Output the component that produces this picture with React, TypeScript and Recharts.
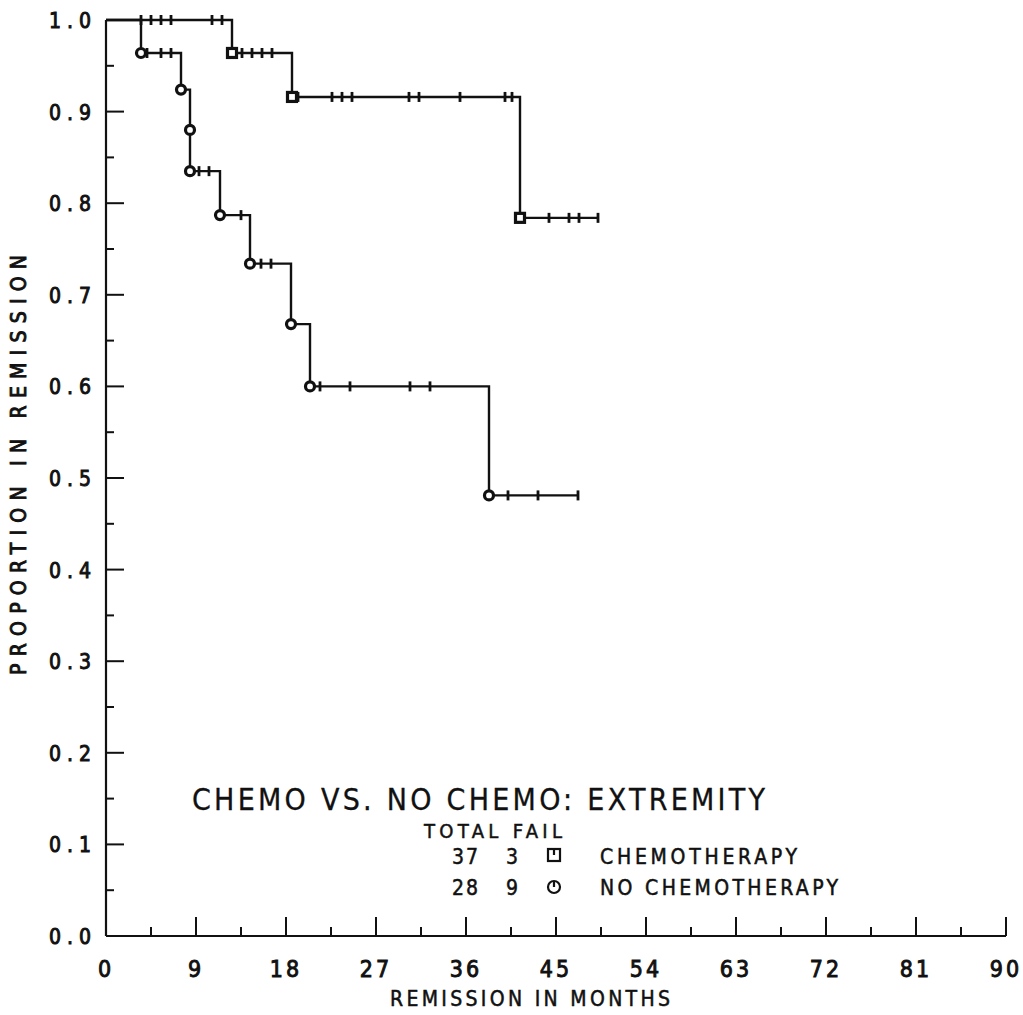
import { ComposedChart, Line, Scatter, XAxis, YAxis } from "recharts";

// step curve for patients without chemotherapy (times in months, proportion in remission)
const noChemoTimes = [0, 3.5, 7.5, 8.4, 11.4, 14.4, 18.5, 20.4, 38.3, 47.2];
const noChemoSurv = [1.0, 0.964, 0.924, 0.835, 0.787, 0.734, 0.668, 0.6, 0.481, 0.481];
const noChemoFailTimes = [3.5, 7.5, 8.4, 8.4, 11.4, 14.4, 18.5, 20.4, 38.3];
const noChemoFailSurv = [0.964, 0.924, 0.88, 0.835, 0.787, 0.734, 0.668, 0.6, 0.481];
const noChemoCensored = [4.1, 5.5, 6.5, 9.3, 10.3, 13.5, 15.5, 16.5, 21.4, 24.4, 30.4, 32.4, 40.2, 43.2, 47.2];

// step curve for patients with chemotherapy
const chemoTimes = [0, 12.6, 18.6, 41.4, 49.2];
const chemoSurv = [1.0, 0.964, 0.916, 0.784, 0.784];
const chemoFailTimes = [12.6, 18.6, 41.4];
const chemoFailSurv = [0.964, 0.916, 0.784];
const chemoCensored = [3.5, 4.5, 5.5, 6.5, 10.6, 11.6, 13.6, 14.6, 15.6, 16.6, 19.2, 22.6, 23.6, 24.6, 30.3, 31.3, 35.4, 39.9, 40.6, 44.3, 46.3, 47.3, 49.2];

const xTicks = [0, 4.5, 9, 13.5, 18, 22.5, 27, 31.5, 36, 40.5, 45, 49.5, 54, 58.5, 63, 67.5, 72, 76.5, 81, 85.5, 90];
const yTicks = [0, 0.05, 0.1, 0.15, 0.2, 0.25, 0.3, 0.35, 0.4, 0.45, 0.5, 0.55, 0.6, 0.65, 0.7, 0.75, 0.8, 0.85, 0.9, 0.95, 1.0];

const FONT = "'DejaVu Sans Condensed', 'DejaVu Sans', sans-serif";
const INK = "#111";

const toRows = (ts: number[], ss: number[]) => ts.map((t, i) => ({ t, s: ss[i] }));

function survAt(ts: number[], ss: number[], t: number) {
  let s = ss[0];
  for (let i = 0; i < ts.length; i++) if (ts[i] <= t) s = ss[i];
  return s;
}

const noChemoSteps = toRows(noChemoTimes, noChemoSurv);
const chemoSteps = toRows(chemoTimes, chemoSurv);
const noChemoFails = toRows(noChemoFailTimes, noChemoFailSurv);
const chemoFails = toRows(chemoFailTimes, chemoFailSurv);
const noChemoCens = noChemoCensored.map((t) => ({ t, s: survAt(noChemoTimes, noChemoSurv, t) }));
const chemoCens = chemoCensored.map((t) => ({ t, s: survAt(chemoTimes, chemoSurv, t) }));

const isMajor = (v: number, step: number) => Math.abs(v / step - Math.round(v / step)) < 1e-6;

function YTick(props: any) {
  const { x, y, payload } = props;
  const v = payload.value as number;
  const major = isMajor(v, 0.1);
  return (
    <g>
      <line x1={x} x2={x + (major ? 18 : 8)} y1={y} y2={y} stroke={INK} strokeWidth={2} />
      {major && (
        <text x={x - 15} y={y} dy={8} textAnchor="end" fontFamily={FONT} fontSize={21}
          fill={INK} stroke={INK} strokeWidth={0.9} textLength={42} lengthAdjust="spacing">
          {v.toFixed(1)}
        </text>
      )}
    </g>
  );
}

function XTick(props: any) {
  const { x, y, payload } = props;
  const v = payload.value as number;
  const major = isMajor(v, 9);
  return (
    <g>
      <line x1={x} x2={x} y1={y} y2={y - (major ? 19 : 9)} stroke={INK} strokeWidth={2} />
      {major && (
        <text x={x} y={y + 41} textAnchor="middle" fontFamily={FONT} fontSize={23}
          fill={INK} stroke={INK} strokeWidth={0.9} letterSpacing={3}>
          {v}
        </text>
      )}
    </g>
  );
}

function CensorMark(props: any) {
  const { cx, cy } = props;
  return <line x1={cx} x2={cx} y1={cy - 5} y2={cy + 5} stroke={INK} strokeWidth={2.8} />;
}

function CircleMark(props: any) {
  const { cx, cy } = props;
  return <circle cx={cx} cy={cy} r={4.5} fill="#fff" stroke={INK} strokeWidth={3.2} />;
}

function SquareMark(props: any) {
  const { cx, cy } = props;
  return <rect x={cx - 4.5} y={cy - 4.5} width={9} height={9} fill="#fff" stroke={INK} strokeWidth={3.2} />;
}

export default function App() {
  return (
    <div style={{ position: "absolute", left: 0, top: 0, width: 1023, height: 1015, background: "#fff" }}>
      <ComposedChart width={1023} height={1015} margin={{ top: 20, right: 17, left: 0, bottom: 0 }}>
        <XAxis
          dataKey="t"
          type="number"
          domain={[0, 90]}
          ticks={xTicks}
          interval={0}
          height={79}
          tickSize={0}
          tickMargin={0}
          tickLine={false}
          axisLine={{ stroke: INK, strokeWidth: 2.2 }}
          tick={XTick}
          allowDataOverflow
        />
        <YAxis
          type="number"
          domain={[0, 1]}
          ticks={yTicks}
          interval={0}
          width={106}
          tickSize={0}
          tickMargin={0}
          tickLine={false}
          axisLine={{ stroke: INK, strokeWidth: 2.2 }}
          tick={YTick}
        />
        <Line data={chemoSteps} dataKey="s" type="stepAfter" stroke={INK} strokeWidth={2.4} dot={false} isAnimationActive={false} />
        <Line data={noChemoSteps} dataKey="s" type="stepAfter" stroke={INK} strokeWidth={2.4} dot={false} isAnimationActive={false} />
        <Scatter data={chemoCens} dataKey="s" shape={CensorMark} isAnimationActive={false} />
        <Scatter data={noChemoCens} dataKey="s" shape={CensorMark} isAnimationActive={false} />
        <Scatter data={chemoFails} dataKey="s" shape={SquareMark} isAnimationActive={false} />
        <Scatter data={noChemoFails} dataKey="s" shape={CircleMark} isAnimationActive={false} />
      </ComposedChart>
      <svg width={1023} height={1015} style={{ position: "absolute", left: 0, top: 0, pointerEvents: "none" }}>
        <g fontFamily={FONT} fill={INK} stroke={INK} strokeWidth={0.5}>
          <text transform="translate(26,465) rotate(-90)" textAnchor="middle" fontSize={21}
            strokeWidth={0.9} textLength={420} lengthAdjust="spacing">
            PROPORTION IN REMISSION
          </text>
          <text x={390} y={1006} fontSize={21} textLength={280} lengthAdjust="spacing">
            REMISSION IN MONTHS
          </text>
          <text x={192} y={810} fontSize={30} strokeWidth={0.3} textLength={573} lengthAdjust="spacing">
            CHEMO VS. NO CHEMO: EXTREMITY
          </text>
          <text x={424} y={838} fontSize={20} textLength={138} lengthAdjust="spacing">
            TOTAL FAIL
          </text>
          <text x={452} y={864} fontSize={21} textLength={26} lengthAdjust="spacing">37</text>
          <text x={506} y={864} fontSize={21}>3</text>
          <text x={600} y={864} fontSize={21} textLength={197} lengthAdjust="spacing">CHEMOTHERAPY</text>
          <text x={452} y={895} fontSize={21} textLength={26} lengthAdjust="spacing">28</text>
          <text x={506} y={895} fontSize={21}>9</text>
          <text x={600} y={895} fontSize={21} textLength={238} lengthAdjust="spacing">NO CHEMOTHERAPY</text>
        </g>
        <g fill="none" stroke={INK} strokeWidth={2.2}>
          <rect x={548} y={849} width={12} height={12} />
          <line x1={554} x2={554} y1={849} y2={855} />
          <circle cx={554} cy={887} r={6} />
          <line x1={554} x2={554} y1={881} y2={887} />
        </g>
      </svg>
    </div>
  );
}
